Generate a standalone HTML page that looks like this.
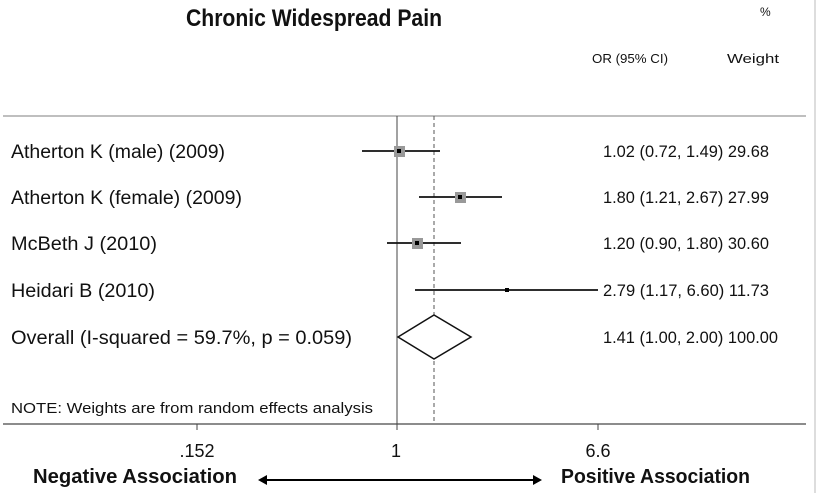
<!DOCTYPE html>
<html><head><style>
body{margin:0;background:#fff;}
svg text{font-family:"Liberation Sans",sans-serif;fill:#111;}
</style></head><body>
<svg width="826" height="493" viewBox="0 0 826 493" xmlns="http://www.w3.org/2000/svg">
<rect width="826" height="493" fill="#fff"/>
<line x1="815" y1="0" x2="815" y2="493" stroke="#ddd" stroke-width="2"/>
<text x="186" y="26" font-size="24" font-weight="bold" textLength="256" lengthAdjust="spacingAndGlyphs">Chronic Widespread Pain</text>
<text x="760" y="16" font-size="12">%</text>
<text x="592" y="63" font-size="13" textLength="76" lengthAdjust="spacingAndGlyphs">OR (95% CI)</text>
<text x="727" y="63" font-size="13" textLength="52" lengthAdjust="spacingAndGlyphs">Weight</text>
<line x1="3" y1="116" x2="806" y2="116" stroke="#aaa" stroke-width="1.5"/>
<line x1="3" y1="424" x2="806" y2="424" stroke="#666" stroke-width="1.5"/>
<line x1="397" y1="116" x2="397" y2="424" stroke="#444" stroke-width="1"/>
<line x1="434" y1="116" x2="434" y2="424" stroke="#555" stroke-width="1" stroke-dasharray="4,3"/>
<line x1="197" y1="424" x2="197" y2="430" stroke="#444"/>
<line x1="397" y1="424" x2="397" y2="430" stroke="#444"/>
<line x1="598" y1="424" x2="598" y2="430" stroke="#444"/>
<g font-size="19">
<text x="11" y="158" textLength="214" lengthAdjust="spacingAndGlyphs">Atherton K (male) (2009)</text>
<text x="11" y="204" textLength="231" lengthAdjust="spacingAndGlyphs">Atherton K (female) (2009)</text>
<text x="11" y="250" textLength="146" lengthAdjust="spacingAndGlyphs">McBeth J (2010)</text>
<text x="11" y="297" textLength="144" lengthAdjust="spacingAndGlyphs">Heidari B (2010)</text>
<text x="11" y="344" textLength="341" lengthAdjust="spacingAndGlyphs">Overall  (I-squared = 59.7%, p = 0.059)</text>
</g>
<text x="11" y="413" font-size="15" textLength="362" lengthAdjust="spacingAndGlyphs">NOTE: Weights are from random effects analysis</text>
<g font-size="17">
<text x="603" y="157" textLength="166" lengthAdjust="spacingAndGlyphs">1.02 (0.72, 1.49) 29.68</text>
<text x="603" y="203" textLength="166" lengthAdjust="spacingAndGlyphs">1.80 (1.21, 2.67) 27.99</text>
<text x="603" y="249" textLength="166" lengthAdjust="spacingAndGlyphs">1.20 (0.90, 1.80) 30.60</text>
<text x="603" y="296" textLength="166" lengthAdjust="spacingAndGlyphs">2.79 (1.17, 6.60) 11.73</text>
<text x="603" y="343" textLength="175" lengthAdjust="spacingAndGlyphs">1.41 (1.00, 2.00) 100.00</text>
</g>
<g stroke="#111" stroke-width="1.8">
<line x1="362" y1="151" x2="440" y2="151"/>
<line x1="419" y1="197" x2="502" y2="197"/>
<line x1="387" y1="243" x2="461" y2="243"/>
<line x1="415" y1="290" x2="598" y2="290"/>
</g>
<g fill="#999">
<rect x="394" y="146" width="11" height="11"/>
<rect x="455" y="192" width="11" height="11"/>
<rect x="412" y="238" width="11" height="11"/>
</g>
<g fill="#000">
<rect x="397" y="149" width="4" height="4"/>
<rect x="458" y="195" width="4" height="4"/>
<rect x="415" y="241" width="4" height="4"/>
<rect x="505" y="288" width="4" height="4"/>
</g>
<polygon points="398,337 434,315 471,337 434,359" fill="#fff" stroke="#111" stroke-width="1.5"/>
<g font-size="18" text-anchor="middle">
<text x="197" y="457">.152</text>
<text x="396" y="457">1</text>
<text x="598" y="457">6.6</text>
</g>
<text x="33" y="483" font-size="20" font-weight="bold" textLength="204" lengthAdjust="spacingAndGlyphs">Negative  Association</text>
<text x="561" y="483" font-size="20" font-weight="bold" textLength="189" lengthAdjust="spacingAndGlyphs">Positive Association</text>
<line x1="263" y1="480" x2="536" y2="480" stroke="#000" stroke-width="2"/>
<polygon points="258,480 267,475 267,485" fill="#000"/>
<polygon points="542,480 533,475 533,485" fill="#000"/>
</svg>
</body></html>
